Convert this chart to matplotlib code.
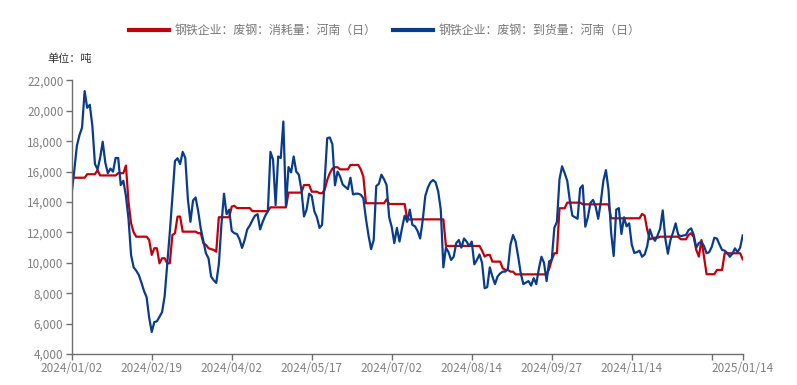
import matplotlib
matplotlib.use("Agg")
import matplotlib.pyplot as plt

plt.rcParams['font.family'] = ['Noto Sans CJK SC', 'DejaVu Sans']

tick_labels = ["2024/01/02", "2024/02/19", "2024/04/02", "2024/05/17", "2024/07/02",
               "2024/08/14", "2024/09/27", "2024/11/14", "", "2025/01/14"]
tick_index = [0, 31, 62, 93, 124, 155, 186, 217, 248, 260]

consumption = [
    15600, 15600, 15600, 15600, 15600, 15600, 15830, 15830, 15830, 15830,
    16100, 15750, 15750, 15750, 15750, 15750, 15750, 15750, 15900, 15900,
    15900, 16400, 14000, 12600, 12000, 11720, 11720, 11720, 11720, 11720,
    11500, 10520, 10960, 10960, 9970, 10300, 10300, 9970, 9970, 11830,
    11950, 13040, 13040, 12050, 12050, 12050, 12050, 12050, 12050, 11950,
    11950, 11290, 11180, 10960, 10900, 10850, 10730, 13000, 13000, 13000,
    13000, 13000, 13700, 13750, 13600, 13600, 13600, 13600, 13600, 13600,
    13400, 13400, 13400, 13400, 13400, 13400, 13400, 13650, 13650, 13650,
    13650, 13650, 13650, 13650, 14620, 14620, 14620, 14620, 14620, 14620,
    15120, 15120, 15120, 14680, 14680, 14680, 14580, 14580, 14800, 15450,
    15900, 16200, 16290, 16290, 16150, 16150, 16150, 16150, 16440, 16440,
    16440, 16440, 16150, 15670, 13920, 13920, 13920, 13920, 13920, 13920,
    13920, 13920, 14180, 13870, 13870, 13870, 13870, 13870, 13870, 13870,
    12860, 12860, 12860, 12860, 12860, 12860, 12860, 12860, 12860, 12860,
    12860, 12860, 12860, 12860, 12860, 11110, 11110, 11110, 11110, 11110,
    11110, 11110, 11110, 11110, 11110, 11110, 11110, 11110, 11110, 10800,
    10410, 10520, 10520, 10080, 10080, 10080, 10080, 9640, 9530, 9530,
    9420, 9420, 9240, 9240, 9240, 9240, 9240, 9240, 9240, 9240,
    9240, 9240, 9240, 9240, 9240, 9600, 10190, 10630, 10630, 13590,
    13590, 13590, 13960, 13960, 13960, 13960, 13960, 13960, 13850, 13850,
    13850, 13850, 13850, 13850, 13850, 13850, 13850, 13850, 13850, 12930,
    12930, 12930, 12930, 12930, 12930, 12930, 12930, 12930, 12930, 12930,
    12930, 13220, 13100, 12160, 11550, 11610, 11650, 11650, 11720, 11720,
    11720, 11720, 11720, 11720, 11720, 11720, 11550, 11550, 11550, 11830,
    11950, 11700, 10850, 10410, 11500, 10400, 9250, 9250, 9250, 9250,
    9530, 9530, 9530, 10630, 10630, 10630, 10630, 10630, 10630, 10630,
    10230,
]

arrivals = [
    14600, 16100, 17700, 18400, 18900, 21300, 20200, 20400, 19000, 16500,
    16150, 16900, 17970, 16600, 15900, 16200, 16000, 16900, 16900, 15120,
    15400, 14400, 12900, 10500, 9700, 9480, 9200, 8700, 8150, 7750,
    6400, 5450, 6100, 6150, 6450, 6750, 7800, 9900, 12000, 14300,
    16700, 16880, 16500, 17300, 16900, 14200, 12700, 14100, 14300, 13400,
    12250, 11450, 10630, 10300, 9100, 8850, 8680, 9900, 12500, 14550,
    13200, 13500, 12100, 11950, 11900, 11550, 10980, 11500, 12200, 12450,
    12800, 13100, 13200, 12200, 12700, 13100, 13400, 17300, 16800, 13800,
    17000, 16900, 19300, 13700, 16300, 15950, 17000, 16000, 15800, 14800,
    13050, 13500, 14550, 14400, 13400, 13000, 12300, 12500, 15300, 18200,
    18250, 17800, 15100, 16000, 15670, 15150, 15000, 14850, 15600, 14500,
    14550, 14550, 14480, 14250, 12900, 11800, 10900, 11500, 15050, 15200,
    15800, 15500, 15120, 13000, 12350, 11300, 12300, 11400, 12300, 13100,
    12700, 13500, 12500, 12400, 12100, 11600, 12800, 14400, 14950, 15300,
    15450, 15300, 14700, 13500, 9700, 11000, 10700, 10190, 10400, 11300,
    11500, 11000, 11600, 11400, 11100, 11400, 9900, 10190, 10550, 10000,
    8330, 8400, 9700, 9100, 8600, 9100, 9300, 9420, 9420, 9600,
    11200, 11830, 11400, 10400, 9300, 8600, 8700, 8800, 8500, 8990,
    8600, 9600, 10400, 10000, 8800, 10100, 10200, 12300, 12700, 15500,
    16350, 15900, 15400, 14100, 13100, 13000, 12900, 14900, 15100, 12380,
    13000, 13950, 14140, 13700, 12900, 14000, 15400, 16100, 14800, 12000,
    10450, 13500, 13600, 11900, 13000, 12400, 12600, 11200, 10650, 10700,
    10800, 10400, 10550, 11100, 12200, 11700, 11450, 11800, 12250, 13450,
    11600, 10600, 11500, 12000, 12600, 11850, 11750, 11800, 11830, 12150,
    12270, 11850, 11000, 11300, 11400, 11100, 10630, 10700, 11050, 11650,
    11600, 11200, 10850, 10800, 10650, 10400, 10600, 10950, 10700, 11000,
    11800,
]

series_names = ["钢铁企业：废钢：消耗量：河南（日）", "钢铁企业：废钢：到货量：河南（日）"]
RED = "#C0000B"
BLUE = "#0A3C8C"
GRAY = "#6E6E6E"

fig = plt.figure(figsize=(7.97, 3.85), dpi=100)
ax = fig.add_axes([0.09, 0.0805, 0.8419, 0.7105])

x = list(range(len(arrivals)))
ax.plot(x, consumption, color=RED, lw=1.6, label=series_names[0], solid_joinstyle='round')
ax.plot(x, arrivals, color=BLUE, lw=1.6, label=series_names[1], solid_joinstyle='round')

ax.set_xlim(0, len(arrivals) - 1)
ax.set_ylim(4000, 22000)
ax.set_yticks(range(4000, 22001, 2000))
ax.set_yticklabels([f"{v:,}" for v in range(4000, 22001, 2000)])
ax.set_xticks(tick_index)
ax.set_xticklabels(tick_labels)

for s in ["top", "right"]:
    ax.spines[s].set_visible(False)
for s in ["left", "bottom"]:
    ax.spines[s].set_color(GRAY)
    ax.spines[s].set_linewidth(1.0)
ax.tick_params(axis="both", colors=GRAY, labelcolor="#808080", labelsize=8.5,
               length=4, width=1.0, direction="out", pad=2)

fig.text(0.06, 0.84, "单位：吨", fontsize=8, color="#333333")

leg = fig.legend(loc="upper center", bbox_to_anchor=(0.483, 0.965), ncol=2,
                 frameon=False, fontsize=8.6, handlelength=3.3, columnspacing=1.4,
                 handletextpad=0.5, labelcolor="#777777")
for line in leg.get_lines():
    line.set_linewidth(3)

fig.savefig("out.png", dpi=100)
